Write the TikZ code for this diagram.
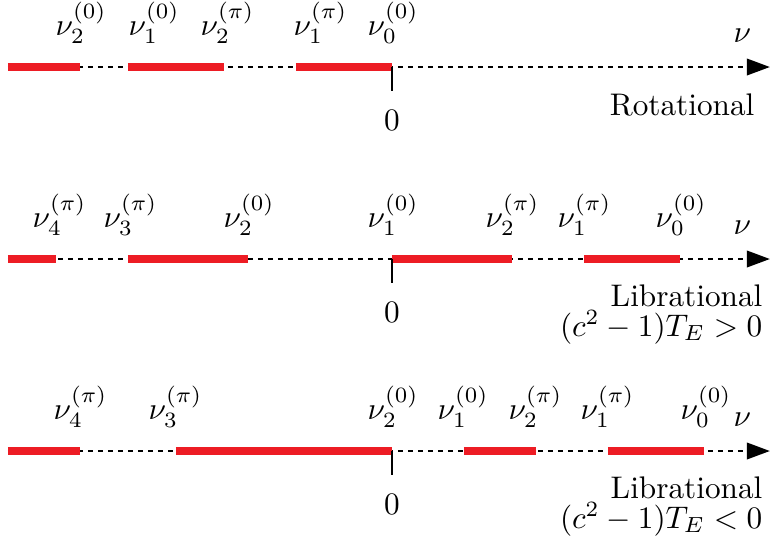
\documentclass[tikz,border=0pt]{standalone}
\usetikzlibrary{arrows.meta}
\definecolor{segred}{RGB}{237,28,36}
\begin{document}
\begin{tikzpicture}[x=0.32pt,y=-0.32pt,
  axisline/.style={line width=0.95pt, dash pattern=on 1.7pt off 1.5pt, -{Triangle[length=7.4pt,width=5.2pt]}},
  band/.style={segred, line width=2.6pt},
  tickmark/.style={line width=0.95pt},
  lab/.style={anchor=base west, inner sep=0pt},
  zero/.style={anchor=base, inner sep=0pt},
  caption/.style={anchor=base east, inner sep=0pt},
  caption2/.style={anchor=base east, inner sep=0pt, align=right}]
\useasboundingbox (0,0) rectangle (770,542);

% ---------- Row 1: Rotational ----------
\coordinate (a1s) at (8,67);
\coordinate (a1e) at (770,67);
\coordinate (t1a) at (392,67);
\coordinate (t1b) at (392,91);
\draw[axisline] (a1s) -- (a1e);
\draw[band] (8,67) -- (80,67);
\draw[band] (128,67) -- (224,67);
\draw[band] (296,67) -- (392,67);
\draw[tickmark] (t1a) -- (t1b);
\node[lab] (r1l1) at (55,35) {$\nu_2^{(0)}$};
\node[lab] (r1l2) at (128,35) {$\nu_1^{(0)}$};
\node[lab] (r1l3) at (200,35) {$\nu_2^{(\pi)}$};
\node[lab] (r1l4) at (293,35) {$\nu_1^{(\pi)}$};
\node[lab] (r1l5) at (367,35) {$\nu_0^{(0)}$};
\node[lab] (r1nu) at (733,42) {$\nu$};
\node[zero] (r1z) at (392,130) {$0$};
\node[caption] (r1c) at (755,115) {Rotational};

% ---------- Row 2: Librational > 0 ----------
\coordinate (a2s) at (8,259);
\coordinate (a2e) at (770,259);
\coordinate (t2a) at (392,259);
\coordinate (t2b) at (392,283);
\draw[axisline] (a2s) -- (a2e);
\draw[band] (8,259) -- (56,259);
\draw[band] (128,259) -- (248,259);
\draw[band] (392,259) -- (512,259);
\draw[band] (584,259) -- (680,259);
\draw[tickmark] (t2a) -- (t2b);
\node[lab] (r2l1) at (32,227) {$\nu_4^{(\pi)}$};
\node[lab] (r2l2) at (103,227) {$\nu_3^{(\pi)}$};
\node[lab] (r2l3) at (223,227) {$\nu_2^{(0)}$};
\node[lab] (r2l4) at (367,227) {$\nu_1^{(0)}$};
\node[lab] (r2l5) at (485,227) {$\nu_2^{(\pi)}$};
\node[lab] (r2l6) at (557,227) {$\nu_1^{(\pi)}$};
\node[lab] (r2l7) at (655,227) {$\nu_0^{(0)}$};
\node[lab] (r2nu) at (733,234) {$\nu$};
\node[zero] (r2z) at (392,322) {$0$};
\node[caption2] (r2c) at (763,336) {Librational\\[-2.4pt]$(c^2-1)T_E>0$};

% ---------- Row 3: Librational < 0 ----------
\coordinate (a3s) at (8,451);
\coordinate (a3e) at (770,451);
\coordinate (t3a) at (392,451);
\coordinate (t3b) at (392,475);
\draw[axisline] (a3s) -- (a3e);
\draw[band] (8,451) -- (80,451);
\draw[band] (176,451) -- (392,451);
\draw[band] (464,451) -- (536,451);
\draw[band] (608,451) -- (704,451);
\draw[tickmark] (t3a) -- (t3b);
\node[lab] (r3l1) at (53,419) {$\nu_4^{(\pi)}$};
\node[lab] (r3l2) at (148,419) {$\nu_3^{(\pi)}$};
\node[lab] (r3l3) at (367,419) {$\nu_2^{(0)}$};
\node[lab] (r3l4) at (437,419) {$\nu_1^{(0)}$};
\node[lab] (r3l5) at (508,419) {$\nu_2^{(\pi)}$};
\node[lab] (r3l6) at (580,419) {$\nu_1^{(\pi)}$};
\node[lab] (r3l7) at (680,419) {$\nu_0^{(0)}$};
\node[lab] (r3nu) at (733,426) {$\nu$};
\node[zero] (r3z) at (392,514) {$0$};
\node[caption2] (r3c) at (763,528) {Librational\\[-2.4pt]$(c^2-1)T_E<0$};
\end{tikzpicture}
\end{document}
